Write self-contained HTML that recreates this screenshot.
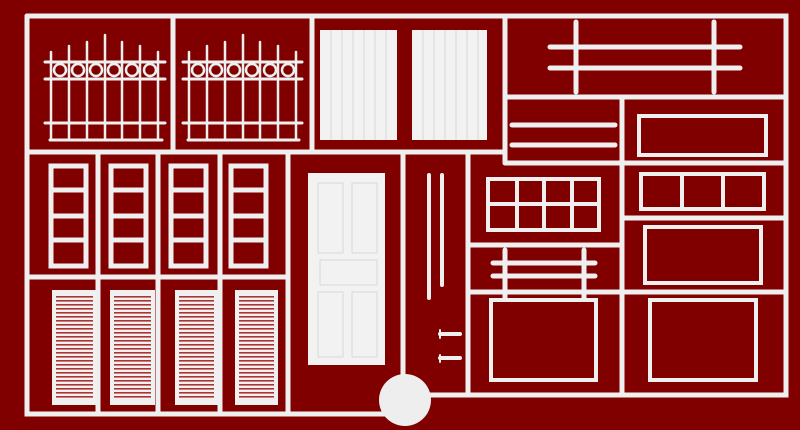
<!DOCTYPE html>
<html><head><style>html,body{margin:0;padding:0;background:#800000;}svg{display:block}</style></head><body>
<svg width="800" height="430" viewBox="0 0 800 430" xmlns="http://www.w3.org/2000/svg">
<rect width="800" height="430" fill="#800000"/>
<g stroke="#efefef" fill="none" stroke-linecap="round">
<g stroke-width="5">
<path d="M27 16H786V395H420"/>
<path d="M27 16V414H385L395 406"/>
<line x1="27" y1="152" x2="505" y2="152"/>
<line x1="173" y1="16" x2="173" y2="152"/>
<line x1="312" y1="16" x2="312" y2="152"/>
<line x1="505" y1="16" x2="505" y2="163"/>
<line x1="505" y1="97" x2="786" y2="97"/>
<line x1="505" y1="163" x2="622" y2="163"/>
<line x1="622" y1="97" x2="622" y2="395"/>
<line x1="27" y1="277" x2="288" y2="277"/>
<line x1="98" y1="152" x2="98" y2="414"/>
<line x1="158" y1="152" x2="158" y2="414"/>
<line x1="220" y1="152" x2="220" y2="414"/>
<line x1="288" y1="152" x2="288" y2="414"/>
<line x1="403" y1="152" x2="403" y2="375"/>
<line x1="468" y1="152" x2="468" y2="395"/>
<line x1="468" y1="245" x2="622" y2="245"/>
<line x1="468" y1="292" x2="622" y2="292"/>
<line x1="622" y1="163" x2="786" y2="163"/>
<line x1="622" y1="218" x2="786" y2="218"/>
<line x1="622" y1="292" x2="786" y2="292"/>
</g>
<g stroke-width="3">
<path d="M45 62H165M45 79H165M45 123H165M50 140H162"/>
<path d="M183 62H302M183 79H302M183 123H302M188 140H299"/>
</g>
<g stroke-width="2.5">
<path d="M51 52V140M69 46V140M87 42V140M105 35V140M122 42V140M140 46V140M158 52V140"/>
<path d="M189 52V140M207 46V140M225 42V140M243 35V140M260 42V140M278 46V140M296 52V140"/>
<circle cx="60" cy="70" r="6"/><circle cx="78" cy="70" r="6"/><circle cx="96" cy="70" r="6"/><circle cx="114" cy="70" r="6"/><circle cx="132" cy="70" r="6"/><circle cx="150" cy="70" r="6"/>
<circle cx="198" cy="70" r="6"/><circle cx="216" cy="70" r="6"/><circle cx="234" cy="70" r="6"/><circle cx="252" cy="70" r="6"/><circle cx="270" cy="70" r="6"/><circle cx="288" cy="70" r="6"/>
</g>
<g stroke-width="5">
<line x1="550" y1="47" x2="740" y2="47"/><line x1="550" y1="68" x2="740" y2="68"/>
<line x1="576" y1="22" x2="576" y2="92"/><line x1="714" y1="22" x2="714" y2="92"/>
<line x1="512" y1="125" x2="615" y2="125"/><line x1="512" y1="145" x2="615" y2="145"/>
<line x1="493" y1="263" x2="595" y2="263"/><line x1="493" y1="276" x2="595" y2="276"/>
<line x1="505" y1="250" x2="505" y2="298"/><line x1="584" y1="250" x2="584" y2="298"/>
</g>
<g stroke-width="4">
<line x1="429" y1="175" x2="429" y2="298"/><line x1="442" y1="175" x2="442" y2="285"/>
</g>
<g stroke-width="5">
<rect x="51" y="166" width="35" height="100"/><path d="M51 190H86M51 216H86M51 240H86"/>
<rect x="111" y="166" width="35" height="100"/><path d="M111 190H146M111 216H146M111 240H146"/>
<rect x="171" y="166" width="35" height="100"/><path d="M171 190H206M171 216H206M171 240H206"/>
<rect x="231" y="166" width="35" height="100"/><path d="M231 190H266M231 216H266M231 240H266"/>
</g>
<g stroke-width="4">
<rect x="639" y="116" width="127" height="39"/>
<rect x="641" y="174" width="123" height="35"/><line x1="682" y1="174" x2="682" y2="209"/><line x1="723" y1="174" x2="723" y2="209"/>
<rect x="645" y="227" width="116" height="56"/>
<rect x="650" y="300" width="106" height="80"/>
<rect x="491" y="300" width="105" height="80"/>
<rect x="488" y="179" width="111" height="51"/><line x1="488" y1="204" x2="599" y2="204"/><line x1="517" y1="179" x2="517" y2="230"/><line x1="544" y1="179" x2="544" y2="230"/><line x1="572" y1="179" x2="572" y2="230"/>
</g>
<path d="M440 330V338M440 355V362" stroke-width="2"/>
<path d="M440 334H460M440 358H460" stroke-width="4"/>
</g>
<circle cx="405" cy="400" r="26" fill="#eeeeee"/>
<g fill="#f2f2f2">
<rect x="320" y="30" width="77" height="110"/><rect x="412" y="30" width="75" height="110"/>
<rect x="308" y="173" width="77" height="192"/>
</g>
<g stroke="#d8d8d8" stroke-width="1" fill="none">
<path d="M331 30V140M342 30V140M353 30V140M364 30V140M375 30V140M386 30V140M423 30V140M434 30V140M445 30V140M456 30V140M467 30V140M478 30V140"/>
<rect x="318" y="183" width="25" height="70"/><rect x="352" y="183" width="25" height="70"/>
<rect x="320" y="260" width="57" height="25"/>
<rect x="318" y="292" width="25" height="65"/><rect x="352" y="292" width="25" height="65"/>
</g>
<g fill="#f0f0f0">
<rect x="52" y="290" width="45" height="115"/>
<rect x="110" y="290" width="45" height="115"/>
<rect x="175" y="290" width="43" height="115"/>
<rect x="235" y="290" width="43" height="115"/>
</g>
<defs><pattern id="lv" width="4" height="4" patternUnits="userSpaceOnUse"><rect width="4" height="1.6" fill="#a33"/></pattern></defs>
<rect x="56" y="296" width="37" height="103" fill="url(#lv)"/>
<rect x="114" y="296" width="37" height="103" fill="url(#lv)"/>
<rect x="179" y="296" width="35" height="103" fill="url(#lv)"/>
<rect x="239" y="296" width="35" height="103" fill="url(#lv)"/>
</svg>
</body></html>
